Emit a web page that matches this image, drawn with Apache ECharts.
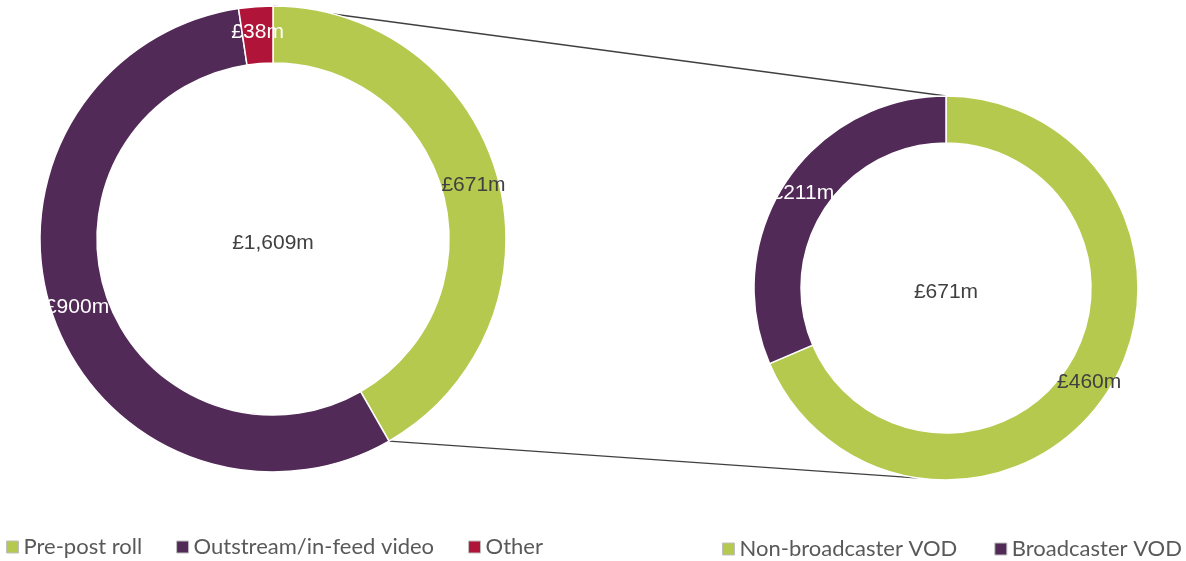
<!DOCTYPE html>
<html>
<head>
<meta charset="utf-8">
<script src="https://cdn.jsdelivr.net/npm/echarts@6/dist/echarts.min.js"></script>
<style>
html,body{margin:0;padding:0;background:#fff;}
#chart{width:1186px;height:561px;}
</style>
</head>
<body>
<div id="chart"></div>
<script>
// ---- data ----
const leftCategories = ['Pre-post roll', 'Outstream/in-feed video', 'Other'];
const leftValues = [671, 900, 38];
const rightCategories = ['Non-broadcaster VOD', 'Broadcaster VOD'];
const rightValues = [460, 211];
const leftColors = ['#B5C94E', '#522A57', '#B01539'];
const rightColors = ['#B5C94E', '#522A57'];
const leftLabelColors = ['#404040', '#FFFFFF', '#FFFFFF'];
const rightLabelColors = ['#404040', '#FFFFFF'];

// ---- layout ----
const L = {cx: 273, cy: 239, r0: 176, r1: 233};
const R = {cx: 946, cy: 288, r0: 145, r1: 192};

const fmt = v => '£' + v.toLocaleString('en-GB') + 'm';
const sum = a => a.reduce((s, v) => s + v, 0);
const leftTotal = sum(leftValues);
const rightTotal = sum(rightValues);

function pt(c, r, degFromTopCW) {
  const a = degFromTopCW * Math.PI / 180;
  return [c.cx + r * Math.sin(a), c.cy - r * Math.cos(a)];
}
// connector lines: from the start/end of the first (expanded) slice of the left donut
const leftSliceEnd = leftValues[0] / leftTotal * 360;
const p1 = pt(L, L.r1, 0);
const p2 = pt(R, R.r1, 0);
const p3 = pt(L, L.r1, leftSliceEnd);
const p4 = pt(R, R.r1, 188);

const chart = echarts.init(document.getElementById('chart'));
const labelFont = {fontFamily: 'Liberation Sans, Arial, sans-serif', fontSize: 21};
const legendText = {color: '#595959', fontSize: 22, fontFamily: 'Lato, Open Sans, sans-serif'};

chart.setOption({
  animation: false,
  backgroundColor: '#ffffff',
  legend: [
    {
      data: leftCategories,
      left: 6, top: 536, padding: 0,
      icon: 'rect', itemWidth: 12, itemHeight: 12, itemGap: 34,
      textStyle: legendText,
      itemStyle: {borderColor: '#BFBFBF', borderWidth: 1}
    },
    {
      data: rightCategories,
      left: 722, top: 538, padding: 0,
      icon: 'rect', itemWidth: 12, itemHeight: 12, itemGap: 37,
      textStyle: legendText,
      itemStyle: {borderColor: '#BFBFBF', borderWidth: 1}
    }
  ],
  graphic: [
    {type: 'line', shape: {x1: p1[0], y1: p1[1], x2: p2[0], y2: p2[1]}, style: {stroke: '#404040', lineWidth: 1.3}, z: 0},
    {type: 'line', shape: {x1: p3[0], y1: p3[1], x2: p4[0], y2: p4[1]}, style: {stroke: '#404040', lineWidth: 1.3}, z: 0},
    {type: 'text', x: L.cx, y: L.cy + 4, style: Object.assign({text: fmt(leftTotal), fill: '#404040', align: 'center', verticalAlign: 'middle'}, labelFont), z: 10},
    {type: 'text', x: R.cx, y: R.cy + 4, style: Object.assign({text: fmt(rightTotal), fill: '#404040', align: 'center', verticalAlign: 'middle'}, labelFont), z: 10}
  ],
  series: [
    {
      type: 'pie',
      center: [L.cx, L.cy],
      radius: [L.r0, L.r1],
      startAngle: 90,
      clockwise: true,
      avoidLabelOverlap: false,
      z: 2,
      itemStyle: {borderColor: '#ffffff', borderWidth: 1.5},
      label: Object.assign({show: true, position: 'inside', formatter: p => fmt(p.value)}, labelFont),
      labelLine: {show: false},
      emphasis: {disabled: true},
      data: leftCategories.map((n, i) => ({
        name: n, value: leftValues[i],
        itemStyle: {color: leftColors[i]},
        label: {color: leftLabelColors[i]}
      }))
    },
    {
      type: 'pie',
      center: [R.cx, R.cy],
      radius: [R.r0, R.r1],
      startAngle: 90,
      clockwise: true,
      avoidLabelOverlap: false,
      z: 2,
      itemStyle: {borderColor: '#ffffff', borderWidth: 1.5},
      label: Object.assign({show: true, position: 'inside', formatter: p => fmt(p.value)}, labelFont),
      labelLine: {show: false},
      emphasis: {disabled: true},
      data: rightCategories.map((n, i) => ({
        name: n, value: rightValues[i],
        itemStyle: {color: rightColors[i]},
        label: {color: rightLabelColors[i]}
      }))
    }
  ]
});
</script>
</body>
</html>
